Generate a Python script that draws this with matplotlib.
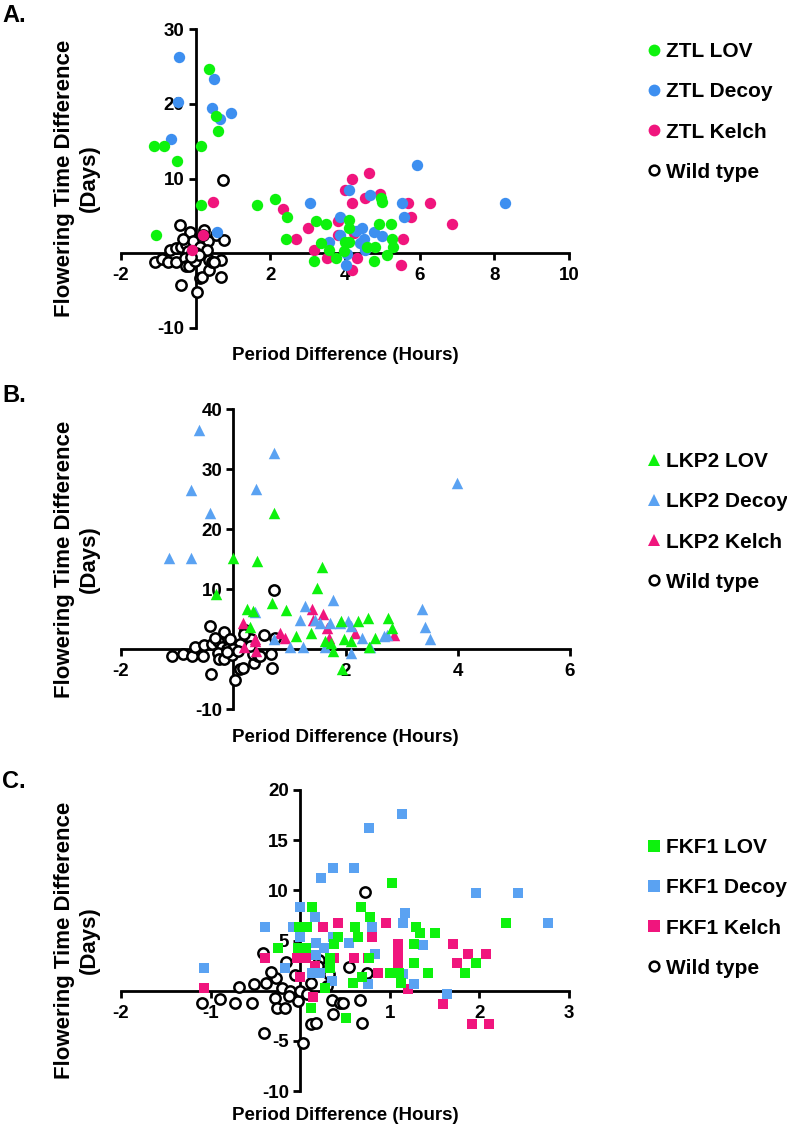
import matplotlib
matplotlib.use("Agg")
import matplotlib.pyplot as plt
from matplotlib.lines import Line2D

plt.rcParams['font.family'] = ['Liberation Sans', 'DejaVu Sans']
plt.rcParams['font.weight'] = 'bold'

# ---------------- data ----------------
# shared wild type (period diff, flowering time diff)
wt_x = [0.72, -0.42, -0.16, 0.21, 0.55, 0.75, -1.10, -0.89, -0.73, -0.68, -0.52, -0.54, -0.40, 0.03,
        0.12, 0.18, 0.37, 0.69, 0.67, -0.38, -0.27, -0.20, -0.28, -0.26, -0.17, -0.11, -0.02, 0.36,
        0.44, 0.32, -0.06, 0.12, 0.00, 0.20, 0.48, 0.30, -0.33, 0.08, -0.12]
wt_y = [9.8, 3.8, 2.9, 3.1, 2.4, 1.8, -1.2, -0.8, -1.2, 0.4, 0.7, -1.2, -4.2, -5.2,
        -3.3, -3.2, -2.3, -3.2, -0.9, 0.8, 1.3, 0.3, -0.7, -1.7, -1.7, 0.0, -1.0, -0.9,
        -1.2, 1.7, 1.6, 0.8, 0.0, 2.5, -1.2, 0.5, 1.9, -0.3, -0.5]

# Panel A: ZTL
ztl_lov_x = [0.37, 0.55, 0.59, 0.15, -1.11, -0.84, -0.50, 0.15, -1.07, 1.64, 2.13, 2.44, 2.43, 3.22,
             3.50, 3.36, 3.58, 3.77, 3.16, 3.96, 4.12, 4.12, 4.10, 4.59, 4.81, 4.77, 4.90, 4.97,
             4.99, 5.23, 5.26, 5.29, 5.12, 3.99]
ztl_lov_y = [24.7, 18.3, 16.4, 14.4, 14.4, 14.4, 12.4, 6.4, 2.4, 6.4, 7.3, 4.8, 1.9, 4.3,
             3.9, 1.4, 0.4, -0.6, -1.1, 0.3, 1.5, 4.4, 3.4, 0.8, 0.8, -1.1, 3.9, 7.4,
             6.8, 3.9, 1.9, 0.8, -0.2, 1.5]
ztl_decoy_x = [-0.44, -0.48, 0.50, 0.45, 0.95, 0.66, -0.66, 0.58, 3.05, 4.10, 4.68, 3.86, 5.93, 8.28,
               5.53, 5.59, 4.46, 3.87, 3.58, 4.05, 4.03, 4.50, 4.77, 4.99, 4.54, 4.41, 4.30]
ztl_decoy_y = [26.3, 20.3, 23.3, 19.4, 18.8, 17.9, 15.3, 2.8, 6.75, 8.4, 7.8, 4.9, 11.8, 6.7,
               6.75, 4.9, 3.4, 2.5, 1.5, -0.1, -1.6, 1.9, 2.8, 2.3, 0.5, 1.4, 3.0]
ztl_kelch_x = [0.46, 0.19, -0.10, 2.35, 2.69, 3.00, 3.16, 3.52, 4.19, 4.63, 4.01, 4.19, 4.54, 4.95,
               5.68, 5.77, 6.29, 6.87, 5.55, 5.51, 4.19, 4.32, 3.80, 3.80, 4.24]
ztl_kelch_y = [6.8, 2.4, 0.4, 5.9, 1.9, 3.4, 0.4, -0.7, 9.9, 10.8, 8.4, 6.75, 7.4, 7.9,
               6.75, 4.9, 6.75, 3.9, 1.9, -1.6, -2.2, -0.7, 4.3, 2.4, 2.7]

# Panel B: LKP2
lkp2_lov_x = [0.73, -0.01, 0.42, -0.30, 1.59, 1.50, 0.69, 0.94, 0.24, 0.36, 0.30, 1.12, 1.38, 1.64,
              1.78, 1.94, 1.92, 1.98, 2.22, 2.40, 2.41, 2.52, 2.76, 2.82, 2.10, 1.75]
lkp2_lov_y = [22.7, 15.2, 14.6, 9.2, 13.7, 10.2, 7.7, 6.5, 6.7, 6.3, 3.7, 2.2, 2.6, 1.3,
              -0.4, -3.4, 4.6, 1.6, 4.6, 5.2, 0.4, 1.8, 5.2, 3.5, 1.4, 1.0]
lkp2_decoy_x = [-0.61, 0.72, -0.75, 0.40, -0.41, -1.14, -0.75, 3.99, 1.77, 1.27, 3.37, 3.42, 3.51, 1.19,
                1.55, 1.73, 1.90, 2.09, 2.05, 2.68, 2.74, 2.29, 1.24, 0.39, 0.72, 1.02, 2.09, 2.44,
                1.63, 1.45]
lkp2_decoy_y = [36.5, 32.7, 26.5, 26.7, 22.6, 15.2, 15.2, 27.7, 8.2, 7.2, 6.7, 3.7, 1.7, 4.9,
                4.3, 4.3, 4.3, 3.9, 4.6, 2.1, 2.3, 1.8, 0.3, 6.1, 1.6, 0.4, -0.7, 0.4,
                0.4, 4.8]
lkp2_kelch_x = [0.17, 0.20, 0.38, 0.41, 0.84, 0.93, 1.41, 1.60, 1.42, 1.67, 2.17, 2.86, 1.70, 0.39]
lkp2_kelch_y = [4.4, 0.4, 1.6, -0.4, 2.7, 1.8, 6.7, 5.8, 4.9, 3.5, 2.7, 2.4, 1.8, 1.3]

# Panel C: FKF1
fkf1_lov_x = [1.03, 0.13, 0.68, 0.78, 2.30, -0.01, 0.08, 0.61, 1.29, 1.34, 1.50, 0.65, 0.42, -0.25,
              -0.03, 0.06, 0.38, 1.27, 0.33, 0.77, 1.27, 1.96, 0.33, 1.84, 1.43, 1.00, 1.10, 0.69,
              0.59, 1.13, 0.28, 0.12, 0.51]
fkf1_lov_y = [10.7, 8.3, 8.3, 7.3, 6.7, 6.3, 6.3, 6.3, 6.3, 5.7, 5.7, 5.3, 5.3, 4.3,
              4.3, 4.3, 4.7, 4.7, 3.3, 3.3, 2.8, 2.8, 2.3, 1.8, 1.8, 1.8, 1.8, 1.4,
              0.8, 0.8, 0.3, -1.7, -2.7]
fkf1_decoy_x = [1.14, 0.77, 0.37, 0.60, 0.23, 1.96, 2.43, 2.77, 1.17, 1.15, 0.00, 0.16, -0.39, -0.08,
                0.80, 0.00, 0.18, 0.27, 0.37, 0.55, 1.37, 0.83, 0.18, -0.17, 0.13, 0.22, 0.35, 0.76,
                1.27, 1.15, 1.64, -1.07]
fkf1_decoy_y = [17.6, 16.2, 12.2, 12.2, 11.2, 9.7, 9.7, 6.7, 7.7, 6.7, 8.3, 7.3, 6.3, 6.3,
                6.3, 5.3, 4.8, 4.3, 5.3, 4.8, 4.6, 3.7, 3.6, 2.3, 1.8, 1.8, 1.0, 0.7,
                0.7, 1.7, -0.3, 2.3]
fkf1_kelch_x = [0.96, 0.42, 0.26, 0.80, 1.09, 1.70, 1.09, 1.87, 2.07, 1.75, 1.09, 0.60, 0.76, 0.38,
                -0.39, -0.04, 0.06, 0.17, 0.00, 0.87, 1.20, 0.14, 1.59, 1.92, 2.11, -1.07]
fkf1_kelch_y = [6.7, 6.7, 6.3, 5.3, 4.7, 4.7, 3.7, 3.7, 3.7, 2.8, 2.8, 3.3, 3.3, 3.3,
                3.3, 3.3, 3.3, 2.5, 1.4, 1.8, 0.2, -0.6, -1.3, -3.3, -3.3, 0.3]

# ticks
a_xticks = [-2, 2, 4, 6, 8, 10]
a_yticks = [-10, 10, 20, 30]
b_xticks = [-2, 2, 4, 6]
b_yticks = [-10, 10, 20, 30, 40]
c_xticks = [-2, -1, 1, 2, 3]
c_yticks = [-10, -5, 5, 10, 15, 20]

GREEN = '#0df20d'
BLUE_A = '#3d8ff0'
BLUE_BC = '#5aa2f2'
PINK = '#f0157d'

W, H = 787, 1129
fig = plt.figure(figsize=(W / 100, H / 100), dpi=100)


def axes_px(x0, x1, y_top, y_bot):
    return fig.add_axes([x0 / W, 1 - y_bot / H, (x1 - x0) / W, (y_bot - y_top) / H])


def style(ax, xlim, ylim, xt, yt):
    ax.set_xlim(*xlim)
    ax.set_ylim(*ylim)
    for s in ['top', 'right']:
        ax.spines[s].set_visible(False)
    ax.spines['left'].set_position(('data', 0))
    ax.spines['bottom'].set_position(('data', 0))
    for s in ['left', 'bottom']:
        ax.spines[s].set_linewidth(2.0)
        ax.spines[s].set_capstyle('projecting')
    ax.set_xticks(xt)
    ax.set_yticks(yt)
    ax.set_xticklabels([str(v) for v in xt])
    ax.set_yticklabels([str(v) for v in yt])
    ax.tick_params(direction='out', length=5, width=2.0, labelsize=13.5)
    ax.tick_params(axis='x', pad=5)
    ax.tick_params(axis='y', pad=3)
    for lab in ax.get_xticklabels() + ax.get_yticklabels():
        lab.set_fontweight('bold')
    ax.patch.set_alpha(0)


def panel(ax, marker, series, xlim, ylim, xt, yt, size):
    style(ax, xlim, ylim, xt, yt)
    ax.scatter(wt_x, wt_y, s=55, marker='o', facecolors='white', edgecolors='black',
               linewidths=1.8, zorder=3)
    for (xs, ys, col, lab) in series[::-1]:
        ax.scatter(xs, ys, s=size, marker=marker, color=col, linewidths=0, zorder=4)


def legend(ax, marker, series, x_px, y_top_px, msize):
    handles = []
    labels = []
    for (xs, ys, col, lab) in series:
        handles.append(Line2D([], [], marker=marker, linestyle='none', markersize=msize,
                              markerfacecolor=col, markeredgecolor=col, markeredgewidth=0))
        labels.append(lab)
    handles.append(Line2D([], [], marker='o', linestyle='none', markersize=7,
                          markerfacecolor='white', markeredgecolor='black', markeredgewidth=1.8))
    labels.append('Wild type')
    ax.legend(handles, labels, loc='upper left', bbox_to_anchor=(x_px / W, 1 - y_top_px / H),
              bbox_transform=fig.transFigure, frameon=False, borderpad=0, borderaxespad=0,
              handlelength=0.75, handletextpad=0.2, labelspacing=1.02,
              prop={'size': 15, 'weight': 'bold'})


def labels(x_center, y_top, y_bot, xlab_y, letter, letter_y):
    yc = (y_top + y_bot) / 2
    fig.text(77 / W, 1 - yc / H, 'Flowering Time Difference\n(Days)', rotation=90,
             ha='center', va='center', multialignment='center', fontsize=16,
             fontweight='bold', linespacing=1.22)
    fig.text(x_center / W, 1 - xlab_y / H, 'Period Difference (Hours)', ha='center',
             va='center', fontsize=13.5, fontweight='bold')
    fig.text(2 / W, 1 - letter_y / H, letter, ha='left', va='center', fontsize=17,
             fontweight='bold')


# ---------- Panel A ----------
axA = axes_px(121, 569, 29, 328)
seriesA = [(ztl_lov_x, ztl_lov_y, GREEN, 'ZTL LOV'),
           (ztl_decoy_x, ztl_decoy_y, BLUE_A, 'ZTL Decoy'),
           (ztl_kelch_x, ztl_kelch_y, PINK, 'ZTL Kelch')]
panel(axA, 'o', seriesA, (-2, 10), (-10, 30), a_xticks, a_yticks, 67)
legend(axA, 'o', seriesA, 646, 42, 8.5)
labels(345, 29, 328, 355, 'A.', 15)

# ---------- Panel B ----------
axB = axes_px(121, 570, 409, 709)
seriesB = [(lkp2_lov_x, lkp2_lov_y, GREEN, 'LKP2 LOV'),
           (lkp2_decoy_x, lkp2_decoy_y, BLUE_BC, 'LKP2 Decoy'),
           (lkp2_kelch_x, lkp2_kelch_y, PINK, 'LKP2 Kelch')]
panel(axB, '^', seriesB, (-2, 6), (-10, 40), b_xticks, b_yticks, 68)
legend(axB, '^', seriesB, 646, 452, 9)
labels(345, 409, 709, 737, 'B.', 395)

# ---------- Panel C ----------
axC = axes_px(121, 569, 790, 1091)
seriesC = [(fkf1_lov_x, fkf1_lov_y, GREEN, 'FKF1 LOV'),
           (fkf1_decoy_x, fkf1_decoy_y, BLUE_BC, 'FKF1 Decoy'),
           (fkf1_kelch_x, fkf1_kelch_y, PINK, 'FKF1 Kelch')]
panel(axC, 's', seriesC, (-2, 3), (-10, 20), c_xticks, c_yticks, 58)
legend(axC, 's', seriesC, 646, 838, 8)
labels(345, 790, 1091, 1115, 'C.', 782)

fig.savefig('out.png', dpi=100)
